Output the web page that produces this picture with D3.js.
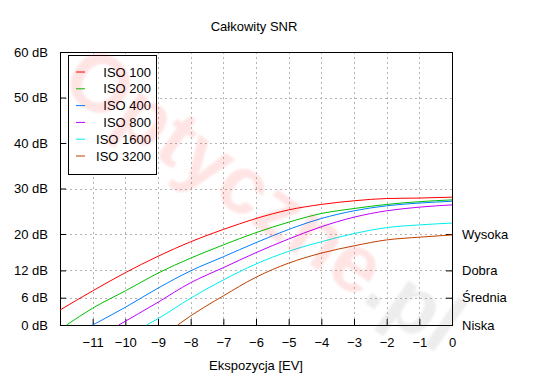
<!DOCTYPE html>
<html>
<head>
<meta charset="utf-8">
<script src="https://cdn.jsdelivr.net/npm/d3@7"></script>
<style>
    body { margin: 0; background: #fff; }
    svg text { font-family: "Liberation Sans", Arial, sans-serif; font-size: 13px; fill: #000; }
</style>
</head>
<body>
<svg id="chart"></svg>
<script>
"use strict";

// exposure steps (EV) and SNR readings (dB), null = below 0 dB
const ev = [-12, -11, -10, -9, -8, -7, -6, -5, -4, -3, -2, -1, 0];
const iso100 = [3.3, 7.5, 11.5, 15.1, 18.3, 21.0, 23.4, 25.3, 26.5, 27.3, 27.8, 27.9, 28.1];
const iso200 = [null, 3.7, 7.5, 11.4, 14.7, 17.6, 20.3, 22.6, 24.5, 25.6, 26.5, 27.1, 27.5];
const iso400 = [null, 0, 3.9, 8.1, 11.9, 15.0, 18.1, 21.0, 23.4, 25.1, 26.2, 26.8, 27.2];
const iso800 = [null, null, null, 5.0, 9.3, 12.6, 15.9, 18.9, 21.6, 23.7, 25.1, 25.9, 26.4];
const iso1600 = [null, null, null, 1.4, 5.9, 9.9, 13.4, 16.2, 18.3, 20.1, 21.4, 22.0, 22.4];
const iso3200 = [null, null, null, null, 2.0, 6.4, 10.5, 13.6, 15.8, 17.4, 18.7, 19.3, 19.8];
// EV where each curve rises above 0 dB
const startEv = [null, -11.8, null, -10.2, -9.35, -8.4];

const seriesNames = ["ISO 100", "ISO 200", "ISO 400", "ISO 800", "ISO 1600", "ISO 3200"];
const seriesValues = [iso100, iso200, iso400, iso800, iso1600, iso3200];
const colors = ["#ff0000", "#00c000", "#0080ff", "#c000ff", "#00eeee", "#c04000"];

const xTicks = [-11, -10, -9, -8, -7, -6, -5, -4, -3, -2, -1, 0];
const yTicks = [0, 6, 12, 20, 30, 40, 50, 60];
const qualityTicks = [20, 12, 6, 0];
const qualityLabels = ["Wysoka", "Dobra", "Średnia", "Niska"];

const width = 550;
const height = 380;
const plotL = 60, plotR = 452, plotT = 52, plotB = 325;

const svg = d3.select("#chart")
    .attr("width", width)
    .attr("height", height);

const x = d3.scaleLinear().domain([-12, 0]).range([plotL, plotR]);
const y = d3.scaleLinear().domain([0, 60]).range([plotB, plotT]);

// grid
const grid = svg.append("g")
    .attr("stroke", "#b4b4b4")
    .attr("stroke-dasharray", "2,3")
    .attr("shape-rendering", "crispEdges");
grid.selectAll(".gx")
    .data(xTicks.filter(d => d > -12 && d < 0))
    .enter().append("line")
    .attr("x1", d => Math.round(x(d)) + 0.5).attr("x2", d => Math.round(x(d)) + 0.5)
    .attr("y1", plotT).attr("y2", plotB);
grid.selectAll(".gy")
    .data(yTicks.filter(d => d > 0 && d < 60))
    .enter().append("line")
    .attr("x1", plotL).attr("x2", plotR)
    .attr("y1", d => Math.round(y(d)) + 0.5).attr("y2", d => Math.round(y(d)) + 0.5);

// axes, ticks inside the frame
const xAxis = svg.append("g")
    .attr("transform", `translate(0,${plotB})`)
    .call(d3.axisBottom(x).tickValues(xTicks).tickSizeInner(-6).tickSizeOuter(0).tickPadding(13).tickFormat(d3.format("d")));
const yAxis = svg.append("g")
    .attr("transform", `translate(${plotL},0)`)
    .call(d3.axisLeft(y).tickValues(yTicks).tickSizeInner(-6).tickSizeOuter(0).tickPadding(12).tickFormat(d => d + " dB"));
const qAxis = svg.append("g")
    .attr("transform", `translate(${plotR},0)`)
    .call(d3.axisRight(y).tickValues(qualityTicks).tickSizeInner(-6).tickSizeOuter(0).tickPadding(10)
        .tickFormat((d, i) => qualityLabels[i]));

[xAxis, yAxis, qAxis].forEach(a => {
    a.select(".domain").remove();
    a.selectAll("line").attr("stroke", "#000");
    a.selectAll("text").attr("font-size", 13).attr("font-family", "Liberation Sans, Arial, sans-serif");
});

svg.append("rect")
    .attr("x", plotL + 0.5).attr("y", plotT + 0.5)
    .attr("width", plotR - plotL).attr("height", plotB - plotT)
    .attr("fill", "none").attr("stroke", "#000")
    .attr("shape-rendering", "crispEdges");

// curves
const line = d3.line()
    .x(d => x(d[0]))
    .y(d => y(d[1]))
    .curve(d3.curveMonotoneX);

seriesValues.forEach((vals, i) => {
    let pts = [];
    if (startEv[i] !== null) pts.push([startEv[i], 0]);
    vals.forEach((v, j) => { if (v !== null) pts.push([ev[j], v]); });
    svg.append("path")
        .attr("d", line(pts))
        .attr("fill", "none")
        .attr("stroke", colors[i])
        .attr("stroke-width", 1);
});

// legend
const legend = svg.append("g");
legend.append("rect")
    .attr("x", 68.5).attr("y", 55.5).attr("width", 88).attr("height", 119)
    .attr("fill", "#fff").attr("stroke", "#000");
seriesNames.forEach((name, i) => {
    const ly = 72 + i * 16.8;
    legend.append("line")
        .attr("x1", 76).attr("x2", 85)
        .attr("y1", ly).attr("y2", ly)
        .attr("stroke", colors[i]);
    legend.append("text")
        .attr("x", 151).attr("y", ly + 4.5)
        .attr("text-anchor", "end")
        .text(name);
});

// titles
svg.append("text")
    .attr("x", 254).attr("y", 31)
    .attr("text-anchor", "middle")
    .text("Całkowity SNR");
svg.append("text")
    .attr("x", 256).attr("y", 370)
    .attr("text-anchor", "middle")
    .text("Ekspozycja [EV]");

// faint watermark on top
svg.append("defs").append("filter")
    .attr("id", "soft")
    .append("feGaussianBlur").attr("stdDeviation", 1.2);
const wm = svg.append("text")
    .attr("transform", "translate(58,88) rotate(35)")
    .attr("opacity", 0.1)
    .attr("filter", "url(#soft)")
    .style("font-size", "82px")
    .style("font-weight", "bold");
wm.append("tspan").style("fill", "#ff0000").text("Optyczne");
wm.append("tspan").style("fill", "#555").text(".pl");
</script>
</body>
</html>
